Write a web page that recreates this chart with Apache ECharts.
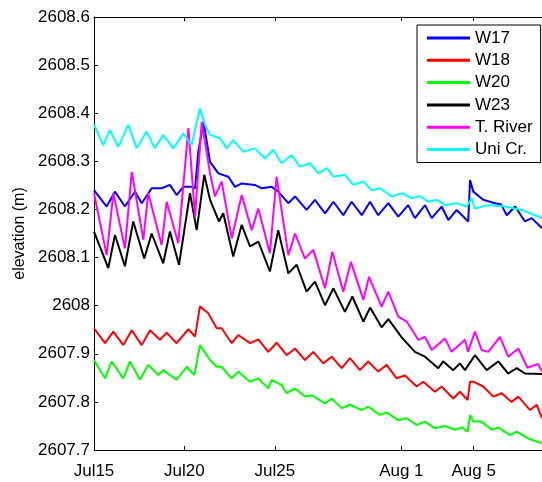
<!DOCTYPE html>
<html>
<head>
<meta charset="utf-8">
<script src="https://cdn.jsdelivr.net/npm/echarts@6/dist/echarts.min.js"></script>
<style>html,body{margin:0;padding:0;background:#fff;}#c{width:542px;height:482px;}</style>
</head>
<body>
<div id="c"></div>
<script>
// x = days since Jul 15, y = elevation (m)
const seriesNames = ['W17', 'W18', 'W20', 'W23', 'T. River', 'Uni Cr.'];
const xTickValues = [0, 5, 10, 17, 21];
const xTickLabels = ['Jul15', 'Jul20', 'Jul25', 'Aug 1', 'Aug 5'];
const yTickValues = [2607.7, 2607.8, 2607.9, 2608, 2608.1, 2608.2, 2608.3, 2608.4, 2608.5, 2608.6];

const W17 = [[0,2608.240],[0.70,2608.206],[1.16,2608.237],[1.71,2608.206],[2.27,2608.237],[2.64,2608.213],[3.19,2608.244],[3.74,2608.244],[4.20,2608.251],[4.57,2608.230],[4.94,2608.247],[5.40,2608.247],[5.59,2608.244],[5.77,2608.320],[6.06,2608.382],[6.42,2608.299],[6.88,2608.275],[7.43,2608.268],[7.80,2608.247],[8.17,2608.254],[8.90,2608.251],[9.28,2608.244],[9.83,2608.247],[10.19,2608.237],[10.75,2608.213],[11.12,2608.227],[11.76,2608.199],[12.22,2608.220],[12.78,2608.192],[13.24,2608.216],[13.79,2608.188],[14.25,2608.216],[14.81,2608.188],[15.27,2608.216],[15.72,2608.188],[16.28,2608.213],[16.83,2608.185],[17.38,2608.209],[17.75,2608.182],[18.31,2608.209],[18.68,2608.182],[19.23,2608.206],[19.60,2608.178],[20.06,2608.199],[20.70,2608.175],[20.80,2608.261],[20.98,2608.237],[21.53,2608.220],[22.18,2608.213],[22.51,2608.211],[22.83,2608.188],[23.29,2608.206],[23.84,2608.175],[24.21,2608.182],[24.78,2608.161]];
const W18 = [[0,2607.953],[0.61,2607.922],[1.07,2607.946],[1.62,2607.918],[2.09,2607.949],[2.64,2607.918],[3.10,2607.949],[3.65,2607.929],[4.02,2607.944],[4.57,2607.922],[5.22,2607.951],[5.59,2607.936],[5.86,2607.999],[6.32,2607.984],[6.79,2607.953],[7.06,2607.953],[7.62,2607.922],[7.98,2607.939],[8.63,2607.922],[9.09,2607.930],[9.64,2607.904],[10.10,2607.923],[10.66,2607.897],[11.12,2607.911],[11.67,2607.887],[12.13,2607.904],[12.68,2607.880],[13.15,2607.894],[13.70,2607.870],[14.16,2607.891],[14.71,2607.866],[15.17,2607.884],[15.72,2607.863],[16.19,2607.877],[16.74,2607.849],[17.20,2607.855],[17.85,2607.832],[18.21,2607.842],[18.86,2607.821],[19.23,2607.832],[19.87,2607.807],[20.24,2607.821],[20.67,2607.804],[20.80,2607.842],[20.98,2607.842],[21.53,2607.832],[22.09,2607.811],[22.55,2607.818],[23.10,2607.800],[23.47,2607.811],[24.12,2607.783],[24.49,2607.794],[24.78,2607.766]];
const W20 = [[0,2607.887],[0.61,2607.849],[0.98,2607.884],[1.62,2607.849],[1.99,2607.884],[2.54,2607.846],[3.00,2607.877],[3.56,2607.856],[3.83,2607.866],[4.57,2607.846],[5.13,2607.873],[5.55,2607.856],[5.86,2607.918],[6.42,2607.887],[6.79,2607.873],[7.06,2607.873],[7.62,2607.849],[7.98,2607.863],[8.63,2607.842],[9.09,2607.849],[9.64,2607.828],[9.83,2607.846],[10.38,2607.835],[10.66,2607.818],[11.12,2607.828],[11.67,2607.811],[12.04,2607.814],[12.78,2607.797],[13.15,2607.807],[13.70,2607.787],[14.16,2607.794],[14.81,2607.783],[15.17,2607.790],[15.82,2607.773],[16.19,2607.778],[16.83,2607.762],[17.30,2607.766],[17.85,2607.752],[18.31,2607.759],[18.86,2607.745],[19.41,2607.750],[19.97,2607.742],[20.34,2607.747],[20.67,2607.738],[20.80,2607.773],[20.98,2607.759],[21.44,2607.759],[22.00,2607.742],[22.36,2607.747],[23.01,2607.731],[23.38,2607.738],[24.02,2607.724],[24.78,2607.714]];
const W23 = [[0,2608.154],[0.79,2608.078],[1.16,2608.147],[1.71,2608.082],[2.17,2608.175],[2.78,2608.098],[3.19,2608.150],[3.83,2608.088],[4.20,2608.154],[4.70,2608.085],[5.31,2608.234],[5.68,2608.157],[6.10,2608.272],[6.42,2608.220],[6.91,2608.175],[7.15,2608.192],[7.70,2608.102],[8.17,2608.168],[8.63,2608.123],[9.09,2608.133],[9.73,2608.071],[10.19,2608.157],[10.75,2608.067],[11.21,2608.085],[11.76,2608.029],[12.22,2608.050],[12.78,2608.001],[13.24,2608.036],[13.88,2607.987],[14.29,2608.019],[14.90,2607.967],[15.27,2607.996],[15.91,2607.955],[16.28,2607.972],[17.02,2607.934],[17.75,2607.904],[18.31,2607.894],[19.04,2607.870],[19.32,2607.884],[19.87,2607.866],[20.24,2607.880],[20.52,2607.866],[21.07,2607.897],[21.72,2607.866],[22.36,2607.884],[22.91,2607.859],[23.38,2607.870],[23.84,2607.859],[24.78,2607.858]];
const TRiver = [[0,2608.234],[0.70,2608.105],[1.07,2608.234],[1.71,2608.119],[2.09,2608.278],[2.73,2608.137],[3.00,2608.234],[3.74,2608.126],[4.02,2608.216],[4.66,2608.130],[5.22,2608.369],[5.59,2608.185],[5.96,2608.382],[6.42,2608.275],[6.69,2608.227],[7.06,2608.258],[7.62,2608.140],[8.17,2608.230],[8.72,2608.157],[9.09,2608.202],[9.73,2608.109],[10.10,2608.268],[10.75,2608.105],[11.12,2608.150],[11.67,2608.098],[12.13,2608.116],[12.78,2608.036],[13.18,2608.112],[13.79,2608.029],[14.21,2608.091],[14.90,2608.012],[15.21,2608.060],[15.91,2607.998],[16.28,2608.029],[16.83,2607.977],[17.30,2607.967],[17.94,2607.929],[18.31,2607.935],[18.68,2607.908],[19.41,2607.932],[19.78,2607.904],[20.52,2607.929],[20.69,2607.904],[21.07,2607.946],[21.44,2607.908],[21.81,2607.904],[22.46,2607.935],[22.91,2607.894],[23.47,2607.911],[23.98,2607.871],[24.56,2607.879],[24.78,2607.863]];
const UniCr = [[0,2608.376],[0.51,2608.334],[0.88,2608.365],[1.34,2608.330],[1.90,2608.376],[2.36,2608.327],[2.91,2608.362],[3.37,2608.327],[3.83,2608.355],[4.39,2608.327],[4.94,2608.358],[5.40,2608.334],[5.86,2608.410],[6.14,2608.376],[6.42,2608.355],[6.97,2608.348],[7.34,2608.327],[7.70,2608.344],[8.26,2608.320],[8.90,2608.327],[9.46,2608.306],[9.92,2608.324],[10.38,2608.296],[10.93,2608.313],[11.39,2608.289],[11.95,2608.296],[12.41,2608.275],[12.89,2608.286],[13.24,2608.268],[13.88,2608.272],[14.34,2608.251],[14.90,2608.258],[15.36,2608.240],[15.82,2608.244],[16.47,2608.227],[17.04,2608.234],[17.57,2608.223],[18.03,2608.228],[18.49,2608.216],[18.97,2608.220],[19.41,2608.209],[20.02,2608.213],[20.61,2608.206],[20.89,2608.223],[21.07,2608.202],[21.81,2608.209],[22.73,2608.206],[23.66,2608.199],[24.39,2608.188],[24.78,2608.182]];

const seriesData = [W17, W18, W20, W23, TRiver, UniCr];
const colors = ['#0000ff', '#ff0000', '#00ff00', '#000000', '#ff00ff', '#00ffff'];
const xMax = 24.78;

const font = 'Liberation Sans, Arial, sans-serif';
const chart = echarts.init(document.getElementById('c'), null, {renderer: 'canvas'});
chart.setOption({
  animation: false,
  backgroundColor: '#ffffff',
  grid: {left: 94, top: 17, right: 0, bottom: 32, containLabel: false},
  legend: {
    orient: 'vertical',
    left: 417, top: 25,
    padding: [4, 8, 4, 10],
    itemGap: 4.3,
    itemWidth: 43, itemHeight: 3,
    icon: 'rect',
    backgroundColor: '#ffffff',
    borderColor: '#000000', borderWidth: 1,
    textStyle: {fontFamily: font, fontSize: 17, color: '#000', lineHeight: 18},
    data: seriesNames
  },
  xAxis: [{
    type: 'value', min: 0, max: xMax, position: 'bottom',
    axisLine: {show: true, onZero: false, lineStyle: {color: '#000', width: 1}},
    axisTick: {show: true, inside: true, length: 4, lineStyle: {color: '#000'}, customValues: xTickValues},
    axisLabel: {
      show: true, margin: 13, color: '#000', fontFamily: font, fontSize: 17,
      customValues: xTickValues,
      formatter: v => { const i = xTickValues.findIndex(t => Math.abs(t - v) < 1e-6); return i >= 0 ? xTickLabels[i] : ''; }
    },
    splitLine: {show: false}
  }, {
    type: 'value', min: 0, max: xMax, position: 'top',
    axisLine: {show: true, onZero: false, lineStyle: {color: '#000', width: 1}},
    axisTick: {show: true, inside: true, length: 4, lineStyle: {color: '#000'}, customValues: xTickValues},
    axisLabel: {show: false},
    splitLine: {show: false}
  }],
  yAxis: {
    type: 'value', min: 2607.7, max: 2608.6,
    name: 'elevation (m)', nameLocation: 'middle', nameGap: 63, nameRotate: 90,
    nameTextStyle: {fontFamily: font, fontSize: 16, color: '#000'},
    axisLine: {show: true, onZero: false, lineStyle: {color: '#000', width: 1}},
    axisTick: {show: true, inside: true, length: 4, lineStyle: {color: '#000'}, customValues: yTickValues},
    axisLabel: {
      show: true, margin: 4, color: '#000', fontFamily: font, fontSize: 17,
      customValues: yTickValues,
      formatter: v => String(Math.round(v * 10) / 10)
    },
    splitLine: {show: false}
  },
  series: seriesNames.map((n, i) => ({
    name: n, type: 'line', data: seriesData[i], xAxisIndex: 0,
    showSymbol: false, symbol: 'none', smooth: false, clip: true,
    lineStyle: {color: colors[i], width: 2},
    itemStyle: {color: colors[i]}
  }))
});
</script>
</body>
</html>
